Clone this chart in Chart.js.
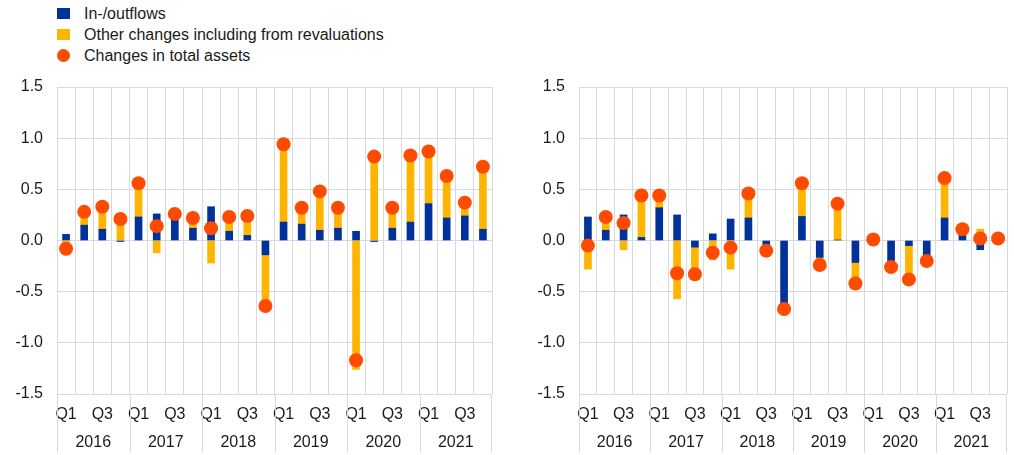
<!DOCTYPE html>
<html>
<head>
<meta charset="utf-8">
<script src="https://cdn.jsdelivr.net/npm/chart.js@4/dist/chart.umd.min.js"></script>
<style>
  html, body { margin: 0; padding: 0; background: #fff; }
  body { width: 1014px; height: 455px; position: relative; overflow: hidden;
         font-family: "Liberation Sans", Arial, sans-serif; color: #1a1a1a; }
  #legend { position: absolute; left: 57px; top: 0; font-size: 16px; }
  .row { position: absolute; left: 0; white-space: nowrap; height: 21px; line-height: 21px; }
  .sw { position: absolute; left: 0; top: 5px; width: 13px; height: 11px; }
  .dot { position: absolute; left: 0; top: 4px; width: 13px; height: 13px; border-radius: 50%; }
  .lbl { position: absolute; left: 27px; top: 0; }
  #c1 { position: absolute; left: 0; top: 0; }
  #c2 { position: absolute; left: 507px; top: 0; }
</style>
</head>
<body>
<div id="legend">
  <div class="row" style="top:3px"><span class="sw" style="background:#003299"></span><span class="lbl">In-/outflows</span></div>
  <div class="row" style="top:24px"><span class="sw" style="background:#FFB400"></span><span class="lbl">Other changes including from revaluations</span></div>
  <div class="row" style="top:45px"><span class="dot" style="background:#FF4B00"></span><span class="lbl">Changes in total assets</span></div>
</div>
<canvas id="c1" width="500" height="455"></canvas>
<canvas id="c2" width="507" height="455"></canvas>
<script>
// ---------- data ----------
const years = ['2016', '2017', '2018', '2019', '2020', '2021'];
const quarters = ['Q1', 'Q2', 'Q3', 'Q4'];
const quarterTickLabels = ['Q1', '', 'Q3', ''];
const categories = [];
years.forEach(y => quarters.forEach(q => categories.push(y + ' ' + q)));

const leftFlows   = [0.06, 0.15, 0.11, -0.01, 0.23, 0.26, 0.21, 0.12, 0.33, 0.09, 0.05, -0.14, 0.18, 0.16, 0.10, 0.12, 0.09, -0.01, 0.12, 0.18, 0.36, 0.22, 0.24, 0.11];
const leftOther   = [-0.14, 0.13, 0.22, 0.22, 0.33, -0.12, 0.05, 0.10, -0.22, 0.14, 0.19, -0.50, 0.76, 0.16, 0.38, 0.19, -1.26, 0.82, 0.20, 0.65, 0.51, 0.41, 0.14, 0.61];
const leftTotal   = [-0.08, 0.28, 0.33, 0.21, 0.56, 0.14, 0.26, 0.22, 0.12, 0.23, 0.24, -0.64, 0.94, 0.32, 0.48, 0.32, -1.17, 0.82, 0.32, 0.83, 0.87, 0.63, 0.37, 0.72];

const rightFlows  = [0.23, 0.10, 0.25, 0.03, 0.32, 0.25, -0.065, 0.065, 0.21, 0.22, -0.05, -0.66, 0.235, -0.165, 0.005, -0.215, 0.005, -0.20, -0.05, -0.17, 0.22, 0.07, -0.09, 0.01];
const rightOther  = [-0.28, 0.13, -0.09, 0.41, 0.12, -0.57, -0.27, -0.19, -0.28, 0.24, -0.05, -0.01, 0.32, -0.08, 0.36, -0.20, 0.005, -0.06, -0.33, -0.03, 0.39, 0.04, 0.11, 0.01];
const rightTotal  = [-0.05, 0.23, 0.17, 0.44, 0.44, -0.32, -0.33, -0.12, -0.07, 0.46, -0.10, -0.67, 0.56, -0.24, 0.36, -0.42, 0.01, -0.26, -0.38, -0.20, 0.61, 0.11, 0.02, 0.02];

const yMin = -1.5, yMax = 1.5, yStep = 0.5;

// ---------- styles ----------
const BLUE = '#003299', YELLOW = '#FFB400', ORANGE = '#FF4B00', GRID = '#d9d9d9', TEXT = '#1a1a1a';
const FONT = { family: '"Liberation Sans", Arial, sans-serif', size: 16 };

const yearPlugin = {
  id: 'yearLabels',
  afterDraw(chart) {
    const xs = chart.scales.x;
    const ctx = chart.ctx;
    const half = (xs.getPixelForValue(1) - xs.getPixelForValue(0)) / 2;
    const bottom = chart.chartArea.bottom;
    ctx.save();
    ctx.strokeStyle = GRID;
    ctx.lineWidth = 1;
    ctx.fillStyle = TEXT;
    ctx.font = FONT.size + 'px ' + FONT.family;
    ctx.textAlign = 'center';
    ctx.textBaseline = 'middle';
    years.forEach((y, k) => {
      const first = xs.getPixelForValue(k * 4);
      const last = xs.getPixelForValue(k * 4 + 3);
      ctx.fillText(y, (first + last) / 2, 443);
      const b = Math.round(first - half) + 0.5;
      ctx.beginPath(); ctx.moveTo(b, bottom); ctx.lineTo(b, 453); ctx.stroke();
      if (k === years.length - 1) {
        const e = Math.round(last + half) - 0.5;
        ctx.beginPath(); ctx.moveTo(e, bottom); ctx.lineTo(e, 453); ctx.stroke();
      }
    });
    ctx.restore();
  }
};

function makeChart(id, flows, other, total, yAxisWidth, padRight) {
  return new Chart(document.getElementById(id), {
    type: 'bar',
    data: {
      labels: categories,
      datasets: [
        { type: 'line', label: 'Changes in total assets', data: total, showLine: false,
          pointRadius: 7, pointHoverRadius: 7, pointBackgroundColor: ORANGE, pointBorderWidth: 0,
          borderColor: ORANGE, backgroundColor: ORANGE, stack: 'pts', order: 0 },
        { label: 'In-/outflows', data: flows, backgroundColor: BLUE, barThickness: 7, stack: 'bars', order: 1 },
        { label: 'Other changes including from revaluations', data: other, backgroundColor: YELLOW, barThickness: 7, stack: 'bars', order: 2 }
      ]
    },
    options: {
      responsive: false,
      animation: false,
      layout: { padding: { top: 87, right: padRight, left: 0, bottom: 0 } },
      plugins: { legend: { display: false }, tooltip: { enabled: false } },
      scales: {
        x: {
          stacked: true,
          offset: true,
          grid: { offset: true, color: GRID, drawTicks: false },
          border: { display: false },
          ticks: {
            autoSkip: false, maxRotation: 0, color: TEXT, font: FONT, padding: 11,
            callback: (v, i) => quarterTickLabels[i % 4]
          },
          afterFit: s => { s.height = 61; }
        },
        y: {
          stacked: true,
          min: yMin, max: yMax,
          grid: { color: GRID, drawTicks: false },
          border: { color: GRID },
          ticks: { stepSize: yStep, color: TEXT, font: FONT, padding: 14,
                   callback: v => Number(v).toFixed(1) },
          afterFit: s => { s.width = yAxisWidth; }
        }
      }
    },
    plugins: [yearPlugin]
  });
}

makeChart('c1', leftFlows, leftOther, leftTotal, 57, 8);
makeChart('c2', rightFlows, rightOther, rightTotal, 72, 2);
</script>
</body>
</html>
